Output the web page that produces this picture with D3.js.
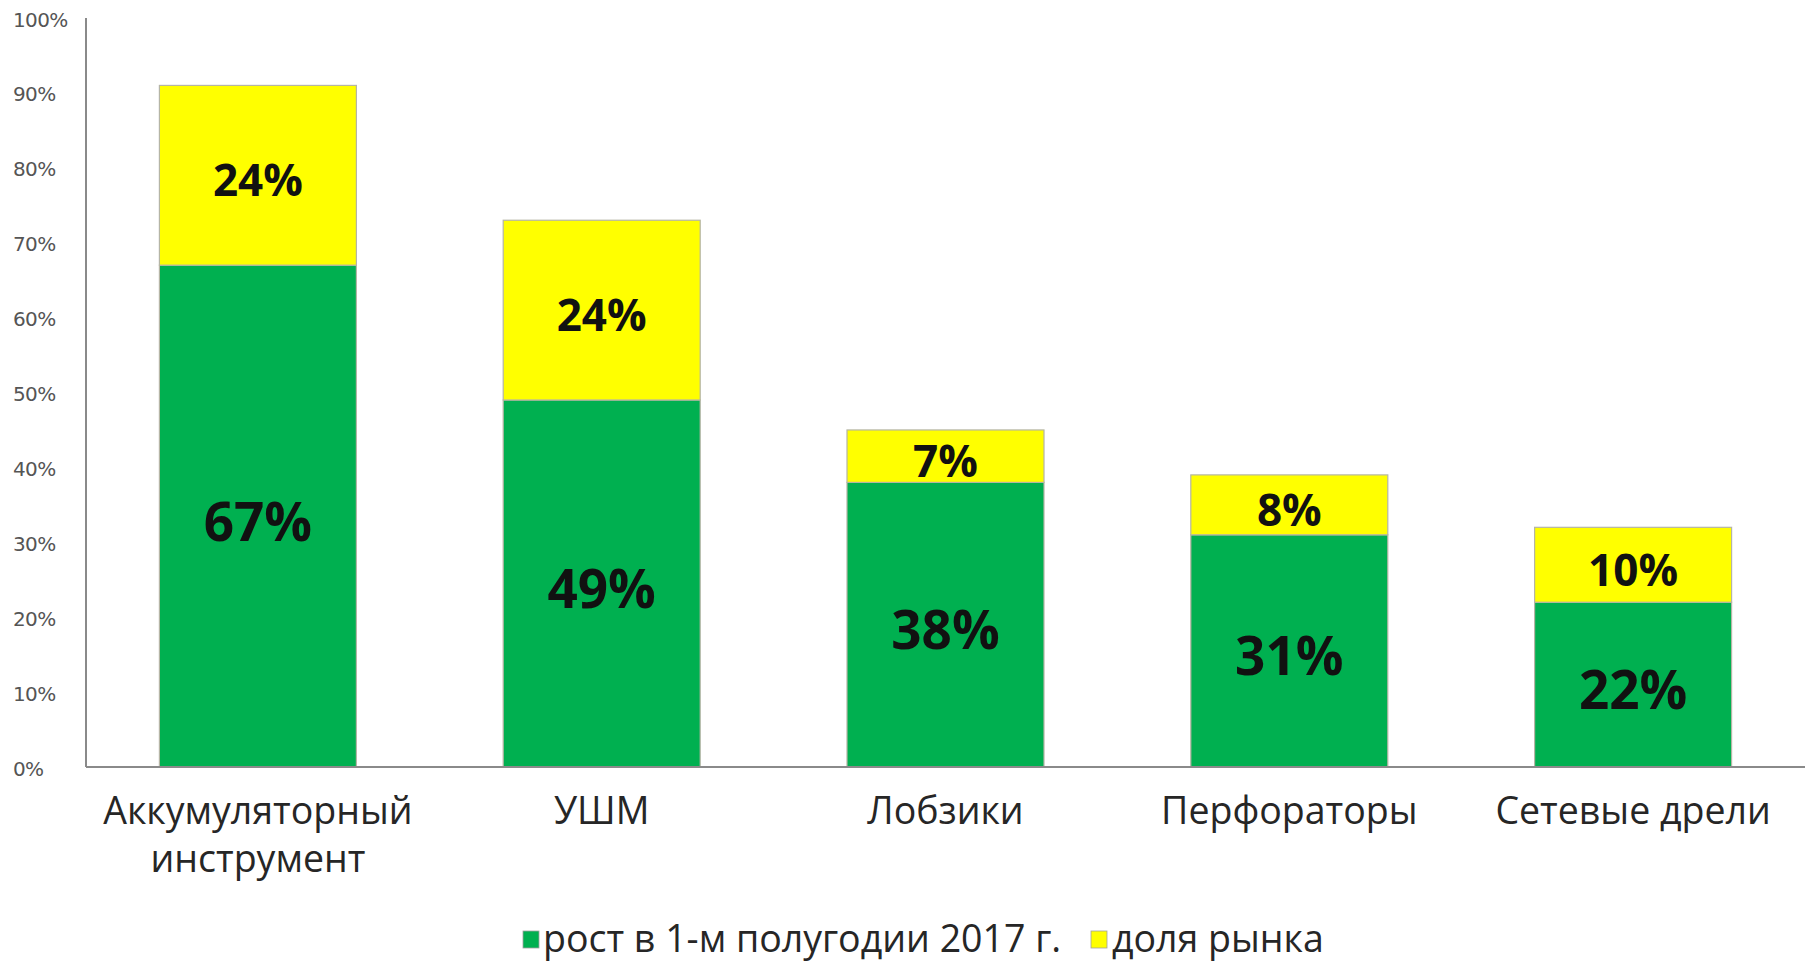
<!DOCTYPE html>
<html>
<head>
<meta charset="utf-8">
<script src="https://cdn.jsdelivr.net/npm/d3@7"></script>
<style>
  html, body { margin: 0; padding: 0; background: #ffffff; }
  svg { display: block; }
</style>
</head>
<body>
<svg id="chart" width="1812" height="963"></svg>
<script>
// ---- data ----
const categories = [["Аккумуляторный", "инструмент"], ["УШМ"], ["Лобзики"], ["Перфораторы"], ["Сетевые дрели"]];
const growth = [67, 49, 38, 31, 22];      // рост в 1-м полугодии 2017 г.
const share  = [24, 24, 7, 8, 10];        // доля рынка
const seriesNames = ["рост в 1-м полугодии 2017 г.", "доля рынка"];
const yTicks = [0, 10, 20, 30, 40, 50, 60, 70, 80, 90, 100];
const tickLabels = yTicks.map(v => v + "%");

// ---- layout ----
const W = 1812, H = 963;
const margin = { left: 86, right: 7, top: 18, bottom: 196 };
const colors = ["#00B050", "#FFFF00"];

const svg = d3.select("#chart");
const x = d3.scaleBand()
  .domain(d3.range(categories.length))
  .range([margin.left, W - margin.right])
  .paddingInner(0.427)
  .paddingOuter(0.2135);
const y = d3.scaleLinear().domain([0, 100]).range([H - margin.bottom, margin.top]);

// y tick labels (left aligned, no tick marks)
svg.append("g").selectAll("text")
  .data(yTicks)
  .join("text")
  .attr("x", 13)
  .attr("y", d => y(d) + 3)
  .attr("dominant-baseline", "middle")
  .attr("font-family", "DejaVu Sans, sans-serif")
  .attr("font-size", 20)
  .attr("letter-spacing", -0.6)
  .attr("fill", "#555555")
  .text((d, i) => tickLabels[i]);

// stacked data
const rows = categories.map((c, i) => ({ i, g: growth[i], s: share[i] }));
const stack = d3.stack().keys(["g", "s"])(rows);

const layers = svg.append("g").selectAll("g")
  .data(stack)
  .join("g")
  .attr("fill", (d, k) => colors[k]);

layers.selectAll("rect")
  .data(d => d)
  .join("rect")
  .attr("x", d => x(d.data.i))
  .attr("width", x.bandwidth())
  .attr("y", d => y(d[1]))
  .attr("height", d => y(d[0]) - y(d[1]))
  .attr("stroke", "#b5b5a5")
  .attr("stroke-width", 1.2);

// data labels
stack.forEach((layer, k) => {
  svg.append("g").selectAll("text")
    .data(layer)
    .join("text")
    .attr("x", d => x(d.data.i) + x.bandwidth() / 2)
    .attr("y", d => (y(d[0]) + y(d[1])) / 2 + 4)
    .attr("text-anchor", "middle")
    .attr("dominant-baseline", "central")
    .attr("font-family", "Open Sans, sans-serif")
    .attr("font-weight", "bold")
    .attr("font-size", k === 0 ? 53 : 44)
    .attr("fill", "#111111")
    .text(d => (d[1] - d[0]) + "%");
});

// axes lines
const axisColor = "#8a8a8a";
svg.append("line")
  .attr("x1", margin.left).attr("x2", margin.left)
  .attr("y1", y(100)).attr("y2", y(0))
  .attr("stroke", axisColor).attr("stroke-width", 2);
svg.append("line")
  .attr("x1", margin.left).attr("x2", W - margin.right)
  .attr("y1", y(0)).attr("y2", y(0))
  .attr("stroke", axisColor).attr("stroke-width", 2);

// category labels
const catG = svg.append("g").selectAll("text")
  .data(categories)
  .join("text")
  .attr("x", (d, i) => x(i) + x.bandwidth() / 2)
  .attr("y", y(0) + 57)
  .attr("text-anchor", "middle")
  .attr("font-family", "Open Sans, sans-serif")
  .attr("font-size", 37.5)
  .attr("fill", "#262626");
catG.selectAll("tspan")
  .data(d => d)
  .join("tspan")
  .attr("x", function () { return d3.select(this.parentNode).attr("x"); })
  .attr("dy", (d, j) => j === 0 ? 0 : 48)
  .text(d => d);

// legend
const legend = svg.append("g");
const legendItems = [
  { name: seriesNames[0], color: colors[0], sx: 523, tx: 543 },
  { name: seriesNames[1], color: colors[1], sx: 1091, tx: 1112 }
];
legendItems.forEach(it => {
  legend.append("rect")
    .attr("x", it.sx).attr("y", 931)
    .attr("width", 16).attr("height", 17)
    .attr("fill", it.color)
    .attr("stroke", "#a0a0a0").attr("stroke-width", 0.8);
  legend.append("text")
    .attr("x", it.tx).attr("y", 952)
    .attr("font-family", "Open Sans, sans-serif")
    .attr("font-size", 37.5)
    .attr("fill", "#262626")
    .text(it.name);
});
</script>
</body>
</html>
